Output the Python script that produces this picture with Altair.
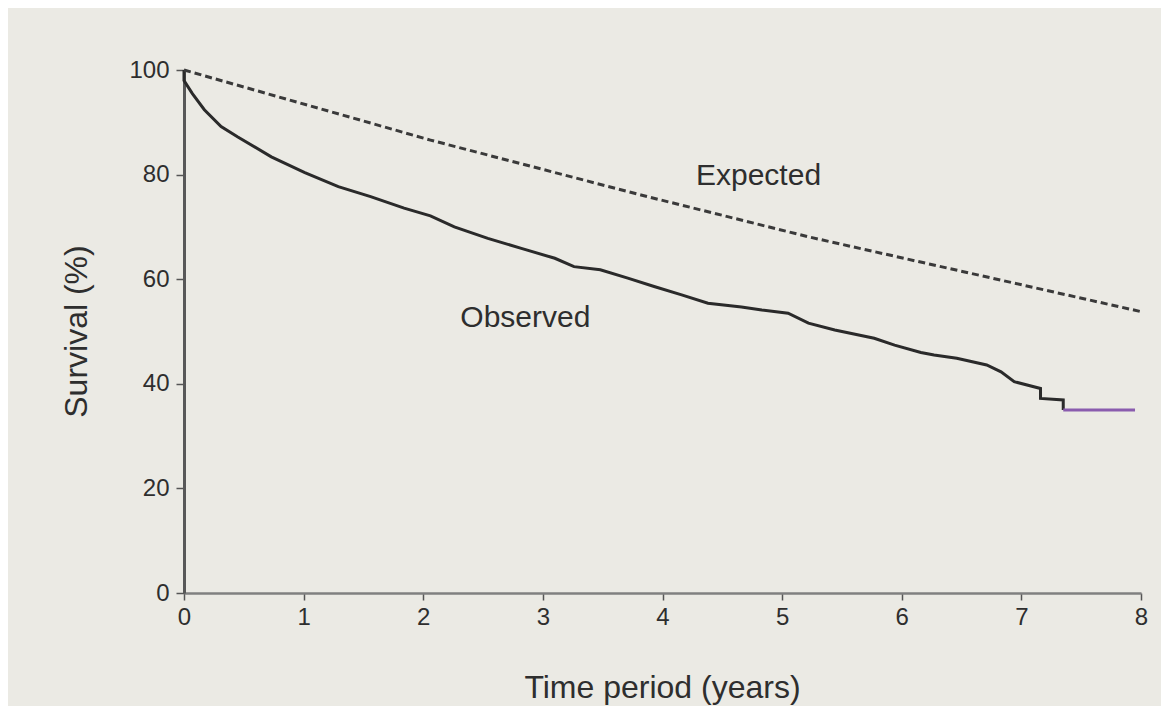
import altair as alt
import pandas as pd

# Observed survival (Kaplan-Meier style)
obs_t = [0.0, 0.0, 0.07, 0.17, 0.31, 0.45, 0.73, 1.01, 1.29, 1.56, 1.84, 2.06,
         2.26, 2.54, 2.82, 3.10, 3.26, 3.48, 3.71, 3.93, 4.16, 4.38, 4.66, 4.83,
         5.05, 5.22, 5.44, 5.77, 5.94, 6.16, 6.27, 6.46, 6.71, 6.83, 6.94, 7.16,
         7.16, 7.35, 7.35]
obs_s = [100.0, 98.0, 95.5, 92.4, 89.2, 87.2, 83.4, 80.4, 77.7, 75.8, 73.6, 72.1,
         70.0, 67.8, 65.9, 64.0, 62.4, 61.8, 60.2, 58.6, 57.0, 55.4, 54.7, 54.1,
         53.5, 51.6, 50.3, 48.7, 47.4, 46.0, 45.5, 44.9, 43.6, 42.3, 40.4, 39.1,
         37.2, 36.9, 35.0]
# final flat segment (appears tinted in the scan)
tail_t = [7.35, 7.95]
tail_s = [35.0, 35.0]

# Expected survival (dashed)
exp_t = [0.0, 2.06, 3.82, 5.22, 8.0]
exp_s = [100.0, 86.6, 76.1, 68.1, 53.8]

# Annotations
label_text = ["Expected", "Observed"]
label_t = [4.28, 2.31]
label_s = [78.0, 50.9]

x_ticks = [0, 1, 2, 3, 4, 5, 6, 7, 8]
y_ticks = [0, 20, 40, 60, 80, 100]

FONT = "Liberation Sans"
INK = "#2e2e2e"
PAPER = "#ebeae4"

obs_df = pd.DataFrame({"t": obs_t, "s": obs_s, "o": list(range(len(obs_t)))})
tail_df = pd.DataFrame({"t": tail_t, "s": tail_s})
exp_df = pd.DataFrame({"t": exp_t, "s": exp_s})
lab_df = pd.DataFrame({"t": label_t, "s": label_s, "label": label_text})

xscale = alt.Scale(domain=[0, 8], nice=False, zero=False)
yscale = alt.Scale(domain=[0, 100], nice=False)

x_axis = alt.Axis(
    values=x_ticks, format="d", title="Time period (years)",
    domainColor="#808080", domainWidth=2.5,
    tickColor="#555555", tickSize=7, tickWidth=1.5,
    labelFont=FONT, labelFontSize=24, labelColor=INK, labelPadding=5,
    labelFlush=False,
    titleFont=FONT, titleFontSize=32, titleFontWeight="normal", titleColor=INK,
    titleBaseline="alphabetic", titleX=478, titleY=104, grid=False,
)
y_axis = alt.Axis(
    values=y_ticks, format="d", title="Survival (%)",
    domainColor="#585858", domainWidth=3,
    tickColor="#555555", tickSize=8, tickWidth=1.5,
    labelFont=FONT, labelFontSize=24, labelColor=INK, labelPadding=7,
    labelFlush=False,
    titleFont=FONT, titleFontSize=32, titleFontWeight="normal", titleColor=INK,
    titleBaseline="alphabetic", titleAlign="center", titleX=-98, titleY=261,
    grid=False,
)

observed = alt.Chart(obs_df).mark_line(color="#2a2a2a", strokeWidth=3).encode(
    x=alt.X("t:Q", scale=xscale, axis=x_axis),
    y=alt.Y("s:Q", scale=yscale, axis=y_axis),
    order="o:Q",
)

tail = alt.Chart(tail_df).mark_line(color="#8a5cae", strokeWidth=3).encode(
    x=alt.X("t:Q", scale=xscale, axis=x_axis),
    y=alt.Y("s:Q", scale=yscale, axis=y_axis),
)

expected = alt.Chart(exp_df).mark_line(
    color="#3a3a3a", strokeWidth=3, strokeDash=[7, 4]
).encode(
    x=alt.X("t:Q", scale=xscale, axis=x_axis),
    y=alt.Y("s:Q", scale=yscale, axis=y_axis),
)

labels = alt.Chart(lab_df).mark_text(
    align="left", baseline="alphabetic", font=FONT, fontSize=30, color=INK
).encode(
    x=alt.X("t:Q", scale=xscale, axis=x_axis),
    y=alt.Y("s:Q", scale=yscale, axis=y_axis),
    text="label:N",
)

chart = alt.layer(observed, expected, tail, labels).properties(
    width=957, height=523,
    autosize=alt.AutoSizeParams(type="none"),
    padding={"left": 176, "top": 62, "right": 20, "bottom": 113},
    background=PAPER,
).configure_view(stroke=None)

chart.save("out.html", embed_options={"renderer": "svg", "actions": False})
